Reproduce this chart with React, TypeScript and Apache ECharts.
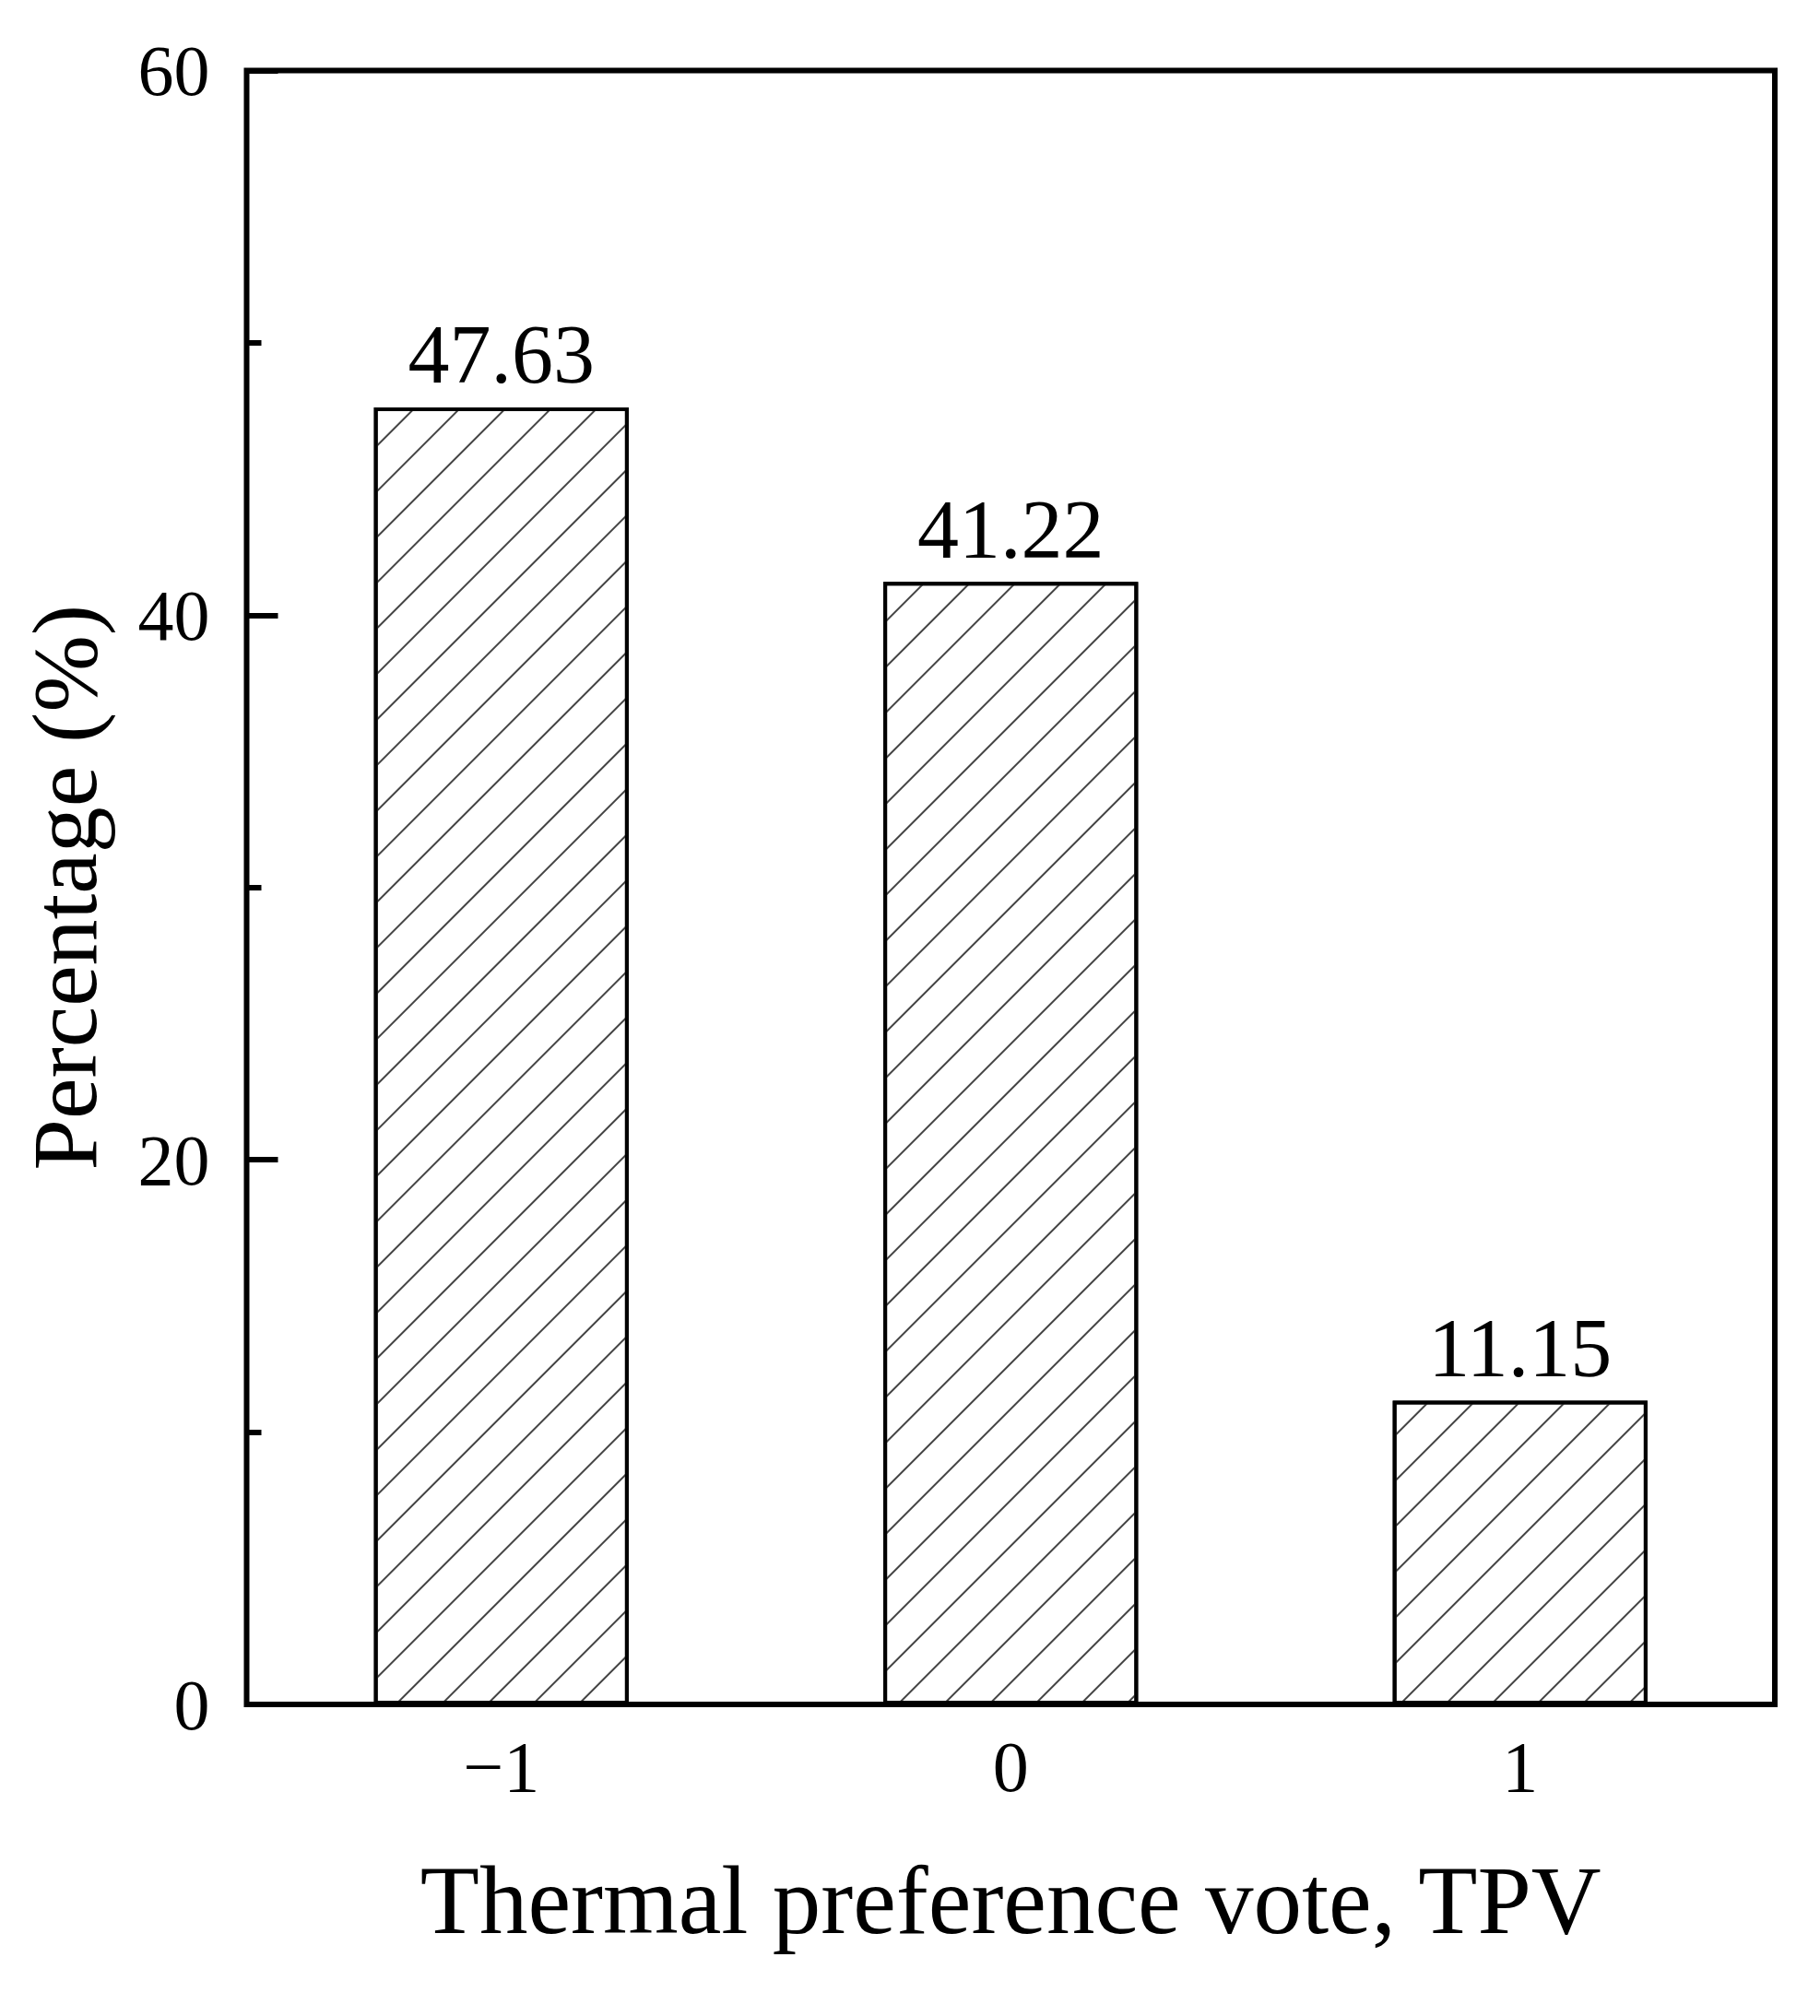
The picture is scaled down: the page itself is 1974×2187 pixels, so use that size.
import React, { useEffect, useRef } from "react";
import * as echarts from "echarts";

const categories = ["\u22121", "0", "1"];
const percentages = [47.63, 41.22, 11.15];
const yTicks = { min: 0, max: 60, interval: 20 };
const xTitle = "Thermal preference vote, TPV";
const yTitle = "Percentage (%)";

const FONT = "'Liberation Serif', 'Times New Roman', serif";

export default function App() {
  const ref = useRef<HTMLDivElement>(null);
  useEffect(() => {
    if (!ref.current) return;
    const chart = echarts.init(ref.current, null, { renderer: "svg" });
    chart.setOption({
      animation: false,
      backgroundColor: "#ffffff",
      grid: {
        left: 267.5,
        right: 49,
        top: 76.5,
        bottom: 338,
        show: true,
        borderColor: "#000",
        borderWidth: 6,
        backgroundColor: "transparent",
      },
      xAxis: {
        type: "category",
        data: categories,
        axisLine: { show: false },
        axisTick: { show: false },
        axisLabel: {
          color: "#000",
          fontFamily: FONT,
          fontSize: 78,
          margin: 28,
        },
        name: xTitle,
        nameLocation: "middle",
        nameGap: 160,
        nameTextStyle: { color: "#000", fontFamily: FONT, fontSize: 105 },
      },
      yAxis: {
        type: "value",
        min: yTicks.min,
        max: yTicks.max,
        interval: yTicks.interval,
        axisLine: { show: false },
        splitLine: { show: false },
        axisTick: {
          show: true,
          inside: true,
          length: 34,
          lineStyle: { color: "#000", width: 6 },
        },
        minorTick: {
          show: true,
          splitNumber: 2,
          length: 16,
          lineStyle: { color: "#000", width: 6 },
        },
        axisLabel: {
          color: "#000",
          fontFamily: FONT,
          fontSize: 78,
          margin: 40,
          padding: [0, 0, 18, 0],
        },
        name: yTitle,
        nameLocation: "middle",
        nameGap: 147,
        nameTextStyle: { color: "#000", fontFamily: FONT, fontSize: 100 },
      },
      series: [
        {
          type: "bar",
          data: percentages,
          barWidth: "50%",
          itemStyle: {
            color: "#ffffff",
            borderColor: "#000",
            borderWidth: 4,
            decal: {
              symbol: "rect",
              symbolSize: 1,
              color: "#444444",
              dashArrayX: [1, 0],
              dashArrayY: [2, 33],
              rotation: -Math.PI / 4,
            },
          },
          label: {
            show: true,
            position: "top",
            distance: 12,
            color: "#000",
            fontFamily: FONT,
            fontSize: 90,
            formatter: (p: any) => p.value.toFixed(2),
          },
        },
      ],
    });
    return () => chart.dispose();
  }, []);
  return (
    <div
      ref={ref}
      style={{ position: "fixed", left: 0, top: 0, width: 1974, height: 2187, background: "#fff" }}
    />
  );
}
